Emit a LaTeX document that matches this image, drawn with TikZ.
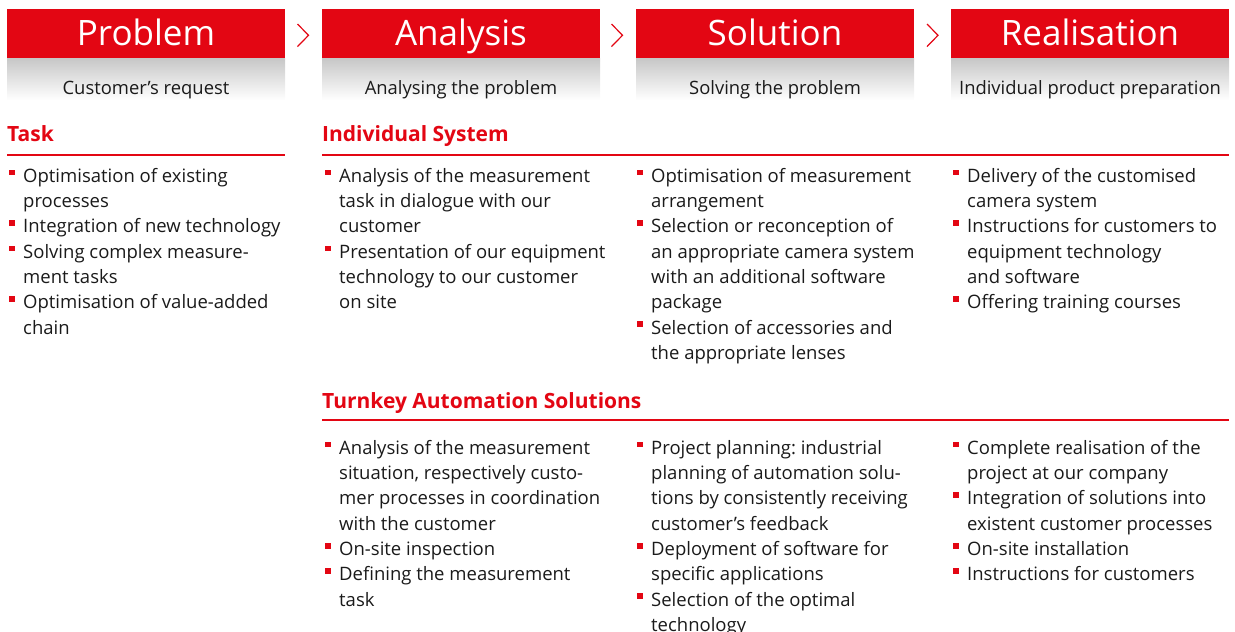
\documentclass[tikz,border=0pt]{standalone}
\usepackage{fontspec}
\setmainfont{Open Sans}
\frenchspacing
\definecolor{brand}{HTML}{E30613}
\definecolor{txt}{HTML}{1A1A1A}
\tikzset{
  headbox/.style={fill=brand, minimum width=278, minimum height=49, inner sep=0, anchor=north west},
  subbox/.style={top color=black!22, bottom color=white, draw=none, minimum width=278, minimum height=42, inner sep=0, anchor=north west},
  headtext/.style={text=white, font=\fontsize{35}{40}\selectfont, anchor=base, inner sep=0},
  subtext/.style={text=txt, font=\fontsize{18.4}{20}\selectfont, anchor=base, inner sep=0},
  sect/.style={text=brand, font=\bfseries\fontsize{21}{24}\selectfont, anchor=base west, inner sep=0},
  rule/.style={draw=brand, line width=1.3},
  chev/.style={draw=brand, line width=1.2},
  item/.style={text=txt, align=left, inner sep=0, anchor=north west, font=\fontsize{18.5}{25.3}\selectfont},
  bul/.style={fill=brand, minimum size=5.8, inner sep=0},
}
\newcommand\bitem[4]{%
  \node[item] (#1) at (#2, #3-17.71) {\strut #4};
  \node[bul] (#1b) at (#2-11, #3-9.5) {};
}
\begin{document}
\begin{tikzpicture}[x=1pt,y=-1pt]
\useasboundingbox (0,0) rectangle (1235,632);
% header boxes
\foreach \n/\x in {p/7, a/322, s/636, r/951}{
  \node[headbox] (h\n) at (\x,9) {};
  \node[subbox] (g\n) at (\x,58) {};
}
\node[headtext] (tp) at (146,45) {Problem};
\node[headtext] (ta) at (461,45) {Analysis};
\node[headtext] (ts) at (775,45) {Solution};
\node[headtext] (tr) at (1090,45) {Realisation};
\node[subtext] (sp) at (146,94) {Customer’s request};
\node[subtext] (sa) at (461,94) {Analysing the problem};
\node[subtext] (ss) at (775,94) {Solving the problem};
\node[subtext] (sr) at (1090,94) {Individual product preparation};
% chevrons
\coordinate (c1) at (297.5,24); \coordinate (c1m) at (308.5,35.3); \coordinate (c1e) at (297.5,46.6);
\coordinate (c2) at (611.5,24); \coordinate (c2m) at (622.5,35.3); \coordinate (c2e) at (611.5,46.6);
\coordinate (c3) at (927,24); \coordinate (c3m) at (938,35.3); \coordinate (c3e) at (927,46.6);
\draw[chev] (c1) -- (c1m) -- (c1e);
\draw[chev] (c2) -- (c2m) -- (c2e);
\draw[chev] (c3) -- (c3m) -- (c3e);
% sections
\node[sect] (task) at (7,141.7) {Task};
\coordinate (r1a) at (7,155); \coordinate (r1b) at (285,155);
\draw[rule] (r1a) -- (r1b);
\node[sect] (indiv) at (322,141.7) {Individual System};
\coordinate (r2a) at (322,155); \coordinate (r2b) at (1229,155);
\draw[rule] (r2a) -- (r2b);
\node[sect] (turn) at (322,408) {Turnkey Automation Solutions};
\coordinate (r3a) at (322,420); \coordinate (r3b) at (1229,420);
\draw[rule] (r3a) -- (r3b);
% column 1
\bitem{p1}{23}{182}{Optimisation of existing\\processes}
\bitem{p2}{23}{232.6}{Integration of new technology}
\bitem{p3}{23}{257.9}{Solving complex measure-\\ment tasks}
\bitem{p4}{23}{308.5}{Optimisation of value-added\\chain}
% column 2
\bitem{a1}{339}{182}{Analysis of the measurement\\task in dialogue with our\\customer}
\bitem{a2}{339}{257.9}{Presentation of our equipment\\technology to our customer\\on site}
% column 3
\bitem{s1}{651}{182}{Optimisation of measurement\\arrangement}
\bitem{s2}{651}{232.6}{Selection or reconception of\\an appropriate camera system\\with an additional software\\package}
\bitem{s3}{651}{333.8}{Selection of accessories and\\the appropriate lenses}
% column 4
\bitem{r1}{967}{182}{Delivery of the customised\\camera system}
\bitem{r2}{967}{232.6}{Instructions for customers to\\equipment technology\\and software}
\bitem{r3}{967}{308.5}{Offering training courses}
% turnkey column 2
\bitem{ta1}{339}{454}{Analysis of the measurement\\situation, respectively custo-\\mer processes in coordination\\with the customer}
\bitem{ta2}{339}{555.2}{On-site inspection}
\bitem{ta3}{339}{580.5}{Defining the measurement\\task}
% turnkey column 3
\bitem{ts1}{651}{454}{Project planning: industrial\\planning of automation solu-\\tions by consistently receiving\\customer’s feedback}
\bitem{ts2}{651}{555.2}{Deployment of software for\\specific applications}
\bitem{ts3}{651}{605.8}{Selection of the optimal\\technology}
% turnkey column 4
\bitem{tr1}{967}{454}{Complete realisation of the\\project at our company}
\bitem{tr2}{967}{504.6}{Integration of solutions into\\existent customer processes}
\bitem{tr3}{967}{555.2}{On-site installation}
\bitem{tr4}{967}{580.5}{Instructions for customers}
\end{tikzpicture}
\end{document}
